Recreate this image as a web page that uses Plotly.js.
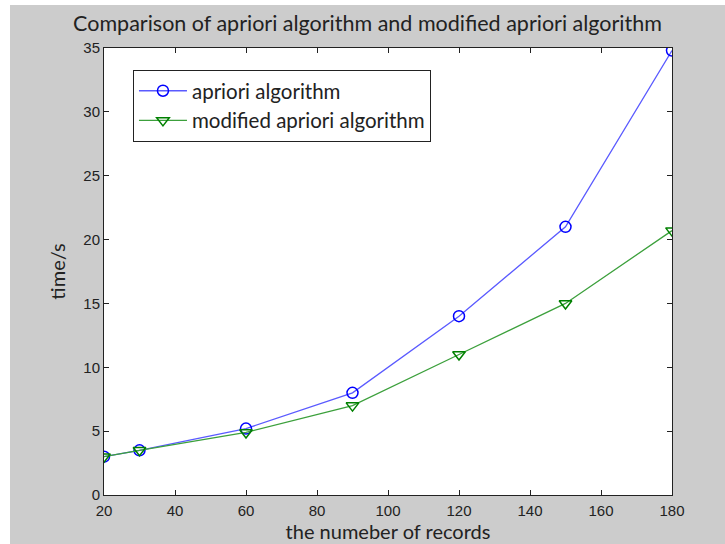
<!DOCTYPE html>
<html>
<head>
<meta charset="utf-8">
<script src="https://cdn.plot.ly/plotly-3.0.1.min.js"></script>
<style>
  html, body { margin: 0; padding: 0; background: #ffffff; width: 725px; height: 544px; overflow: hidden; }
  #chart { position: absolute; left: 10px; top: 5px; width: 715px; height: 539px; }
</style>
</head>
<body>
<div id="chart"></div>
<script>
const records = [20, 30, 60, 90, 120, 150, 180];
const aprioriTime = [3.0, 3.5, 5.2, 8.0, 14.0, 21.0, 34.8];
const modifiedTime = [3.0, 3.5, 4.9, 7.0, 11.0, 15.0, 20.7];
const xTicks = [20, 40, 60, 80, 100, 120, 140, 160, 180];
const yTicks = [0, 5, 10, 15, 20, 25, 30, 35];
const seriesNames = ['apriori algorithm', 'modified apriori algorithm'];

const traces = [
  {
    x: records, y: aprioriTime, name: seriesNames[0], type: 'scatter', mode: 'lines+markers',
    line: { color: 'rgb(90,90,255)', width: 1.3 },
    marker: { symbol: 'circle-open', size: 11, color: 'rgb(0,0,255)', line: { width: 1.5, color: 'rgb(0,0,255)' } }
  },
  {
    x: records, y: modifiedTime, name: seriesNames[1], type: 'scatter', mode: 'lines+markers',
    line: { color: 'rgb(60,160,60)', width: 1.3 },
    marker: { symbol: 'triangle-down-open', size: 11, color: 'rgb(0,128,0)', line: { width: 1.5, color: 'rgb(0,128,0)' } }
  }
];

const layout = {
  width: 715, height: 539,
  paper_bgcolor: '#cccccc', plot_bgcolor: '#ffffff',
  margin: { l: 94, r: 53, t: 43, b: 49, pad: 0 },
  font: { family: 'Liberation Sans, Arial, sans-serif', color: '#222222', size: 15 },
  title: {
    text: 'Comparison of apriori algorithm and modified apriori algorithm',
    font: { family: 'Lato, sans-serif', size: 21.5, color: '#222222' },
    x: 0.5, xref: 'container', xanchor: 'center',
    y: 1 - 18 / 539, yref: 'container', yanchor: 'middle'
  },
  xaxis: {
    range: [20, 180], tickvals: xTicks, ticktext: xTicks.map(String),
    ticks: 'inside', ticklen: 5, tickcolor: '#222', tickwidth: 1,
    showline: true, linecolor: '#222', linewidth: 1, mirror: 'ticks',
    showgrid: false, zeroline: false, ticklabelstandoff: 2,
    tickfont: { size: 15, family: 'Liberation Sans, Arial, sans-serif', color: '#222' },
    title: { text: 'the numeber of records', font: { family: 'Lato, sans-serif', size: 20, color: '#222' }, standoff: 0 }
  },
  yaxis: {
    range: [0, 35], tickvals: yTicks, ticktext: yTicks.map(String),
    ticks: 'inside', ticklen: 5, tickcolor: '#222', tickwidth: 1,
    showline: true, linecolor: '#222', linewidth: 1, mirror: 'ticks',
    showgrid: false, zeroline: false,
    tickfont: { size: 15, family: 'Liberation Sans, Arial, sans-serif', color: '#222' },
    title: { text: 'time/s', font: { family: 'Lato, sans-serif', size: 20, color: '#222' }, standoff: 12 }
  },
  showlegend: true,
  legend: {
    x: 0.051, y: 0.951, xanchor: 'left', yanchor: 'top',
    bgcolor: '#ffffff', bordercolor: '#222222', borderwidth: 1,
    font: { family: 'Lato, sans-serif', size: 20.5, color: '#222' },
    tracegroupgap: 0, itemwidth: 48
  }
};

Plotly.newPlot('chart', traces, layout, { displayModeBar: false, staticPlot: true });
</script>
</body>
</html>
